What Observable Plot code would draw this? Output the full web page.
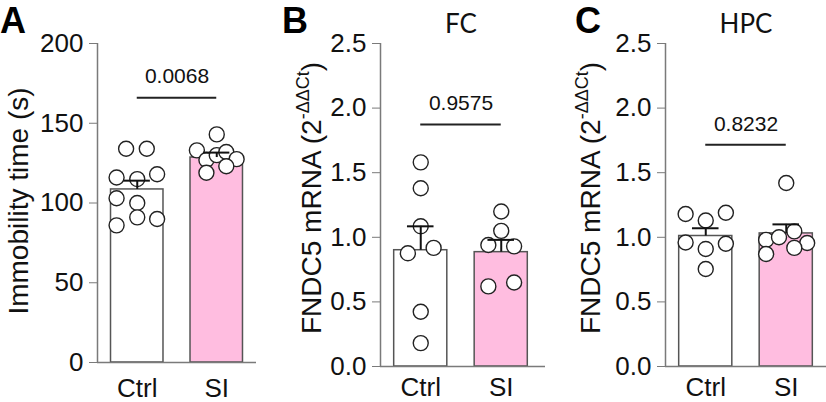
<!DOCTYPE html>
<html><head><meta charset="utf-8">
<script src="https://cdn.jsdelivr.net/npm/d3@7"></script>
<script src="https://cdn.jsdelivr.net/npm/@observablehq/plot@0.6"></script>
<style>
body{margin:0;background:#fff;}
#wrap{position:relative;width:826px;height:402px;overflow:hidden;font-family:"Liberation Sans",Arial,sans-serif;}
.panel{position:absolute;top:0;}
.letter{position:absolute;top:0;font-weight:bold;font-size:36px;line-height:normal;font-family:"Liberation Sans",Arial,sans-serif;}
</style></head><body><div id="wrap"></div>
<script>
// ---------- data ----------
const groups = ["Ctrl", "SI"];

// Panel A: immobility time (s)
const aCtrl = [134, 134, 116, 115, 118, 103, 100, 91, 90, 86];
const aCtrlJitter = [-0.14, 0.12, -0.26, 0, 0.25, -0.26, 0, 0, 0.25, -0.26];
const aSI = [143, 133, 127, 130, 132, 127.5, 119, 123];
const aSIJitter = [0, -0.25, -0.13, 0, 0.12, 0.25, -0.13, 0.12];
const aMean = [108.5, 128.5];
const aSem = [5.5, 3.1];
const aP = "0.0068", aPHeight = 166;
const aTicks = [0, 50, 100, 150, 200];

// Panel B: FC
const bCtrl = [1.58, 1.38, 1.085, 0.876, 0.918, 0.424, 0.181];
const bCtrlJitter = [0, 0, 0, -0.16, 0.16, 0, 0];
const bSI = [1.20, 1.05, 0.94, 0.93, 0.62, 0.65];
const bSIJitter = [0, 0, -0.16, 0.16, -0.16, 0.16];
const bMean = [0.90, 0.885];
const bSem = [0.185, 0.095];
const bP = "0.9575", bPHeight = 1.874;

// Panel C: HPC
const cCtrl = [1.18, 1.13, 1.19, 0.96, 0.91, 0.95, 0.755];
const cCtrlJitter = [-0.25, 0, 0.25, -0.25, 0, 0.25, 0];
const cSI = [1.42, 0.98, 1.0, 1.046, 0.956, 0.871, 0.918];
const cSIJitter = [0, -0.25, -0.09, 0.1, 0.26, -0.25, 0.1];
const cMean = [1.01, 1.03];
const cSem = [0.06, 0.07];
const cP = "0.8232", cPHeight = 1.716;
const mrnaTicks = [0, 0.5, 1.0, 1.5, 2.0, 2.5];

// ---------- drawing ----------
const PINK = "#ffbde0";
const AXIS = "#7a7a7a";
const FONT = "Liberation Sans, Arial, sans-serif";
const wrap = document.getElementById("wrap");

function panel(o) {
  const pts = [
    ...o.ctrl.map((v, i) => ({g: 0, v, j: o.ctrlJ[i]})),
    ...o.si.map((v, i) => ({g: 1, v, j: o.siJ[i]}))
  ];
  const bars = o.mean.map((m, i) => ({g: i, mean: m, sem: o.sem[i]}));
  const sig = [{x1: 0, x2: 1, y: o.pY, label: o.p}];
  const H = 402;
  const svg = Plot.plot({
    width: o.width, height: H,
    marginLeft: o.ml, marginRight: o.mr, marginTop: 43, marginBottom: o.mb,
    style: {fontFamily: FONT, background: "transparent", overflow: "visible"},
    x: {domain: o.xDomain},
    y: {domain: o.yDomain},
    marks: [
      Plot.rect(bars, {x1: d => d.g - 0.33, x2: d => d.g + 0.33, y1: 0, y2: "mean",
        fill: d => d.g ? PINK : "white", stroke: "#555", strokeWidth: 1.5}),
      Plot.dot(pts, {x: d => d.g + d.j, y: "v", r: 7.5, fill: "white", stroke: "#222", strokeWidth: 1.4}),
      Plot.ruleX(bars, {x: "g", y1: "mean", y2: d => d.mean + d.sem, stroke: "#111", strokeWidth: 2}),
      Plot.ruleY(bars, {y: d => d.mean + d.sem, x1: d => d.g - 0.165, x2: d => d.g + 0.165, stroke: "#111", strokeWidth: 2}),
      Plot.ruleY(sig, {y: "y", x1: "x1", x2: "x2", stroke: "#222", strokeWidth: 2}),
      Plot.text(sig, {x: d => (d.x1 + d.x2) / 2, y: "y", text: "label", dy: -21, fontSize: 21, fill: "#111"}),
      o.title ? Plot.text([o.title], {x: () => 0.5, frameAnchor: "top", dy: -29, fontSize: 26, fontFamily: "Lato, sans-serif", fill: "#111"}) : null,
      Plot.ruleX([o.xDomain[0]], {stroke: AXIS, strokeWidth: 1.5}),
      Plot.ruleY([0], {stroke: AXIS, strokeWidth: 1.5}),
      Plot.axisY({ticks: o.yTicks, tickFormat: o.tickFormat, tickSize: 8, tickPadding: 6, fontSize: 26, label: null, stroke: AXIS, fill: "#111"}),
      Plot.axisX({ticks: [0, 1], tickFormat: i => groups[i], tickSize: 0, tickPadding: o.xPad, fontSize: 26, label: null, fill: "#111"})
    ]
  });
  svg.classList.add("panel");
  svg.style.left = o.left + "px";
  // y axis label
  const t = d3.select(svg).append("text")
    .attr("transform", `translate(${o.labelX},${o.labelY}) rotate(-90)`)
    .attr("text-anchor", o.labelAnchor)
    .attr("font-size", 28)
    .attr("font-family", FONT)
    .attr("fill", "#111");
  for (const part of o.label) {
    const ts = t.append("tspan").text(part.text);
    if (part.sup) ts.attr("font-size", 18).attr("dy", -12);
    if (part.after) ts.attr("dy", 12);
  }
  wrap.appendChild(svg);
  const L = document.createElement("div");
  L.className = "letter";
  L.textContent = o.letter;
  L.style.left = o.letterX + "px";
  wrap.appendChild(L);
}

const fmt1 = d => d.toFixed(1);
const mrnaLabel = [{text: "FNDC5 mRNA (2"}, {text: "-ΔΔCt", sup: true}, {text: ")", after: true}];

panel({left: 0, width: 280, ml: 97, mr: 24, mb: 40, xPad: 16, xDomain: [-0.5, 1.5], yDomain: [0, 200],
  yTicks: aTicks, tickFormat: d => d, ctrl: aCtrl, ctrlJ: aCtrlJitter, si: aSI, siJ: aSIJitter,
  mean: aMean, sem: aSem, p: aP, pY: aPHeight, title: null, letter: "A", letterX: 0,
  labelX: 28, labelY: 201, labelAnchor: "middle", label: [{text: "Immobility time (s)"}]});

panel({left: 280, width: 270, ml: 100, mr: 5, mb: 36, xPad: 11, xDomain: [-0.5, 1.55], yDomain: [0, 2.5],
  yTicks: mrnaTicks, tickFormat: fmt1, ctrl: bCtrl, ctrlJ: bCtrlJitter, si: bSI, siJ: bSIJitter,
  mean: bMean, sem: bSem, p: bP, pY: bPHeight, title: "FC", letter: "B", letterX: 282,
  labelX: 41, labelY: 334, labelAnchor: "start", label: mrnaLabel});

panel({left: 550, width: 276, ml: 115, mr: 0, mb: 36, xPad: 11, xDomain: [-0.5, 1.5], yDomain: [0, 2.5],
  yTicks: mrnaTicks, tickFormat: fmt1, ctrl: cCtrl, ctrlJ: cCtrlJitter, si: cSI, siJ: cSIJitter,
  mean: cMean, sem: cSem, p: cP, pY: cPHeight, title: "HPC", letter: "C", letterX: 575,
  labelX: 50, labelY: 334, labelAnchor: "start", label: mrnaLabel});
</script></body></html>
